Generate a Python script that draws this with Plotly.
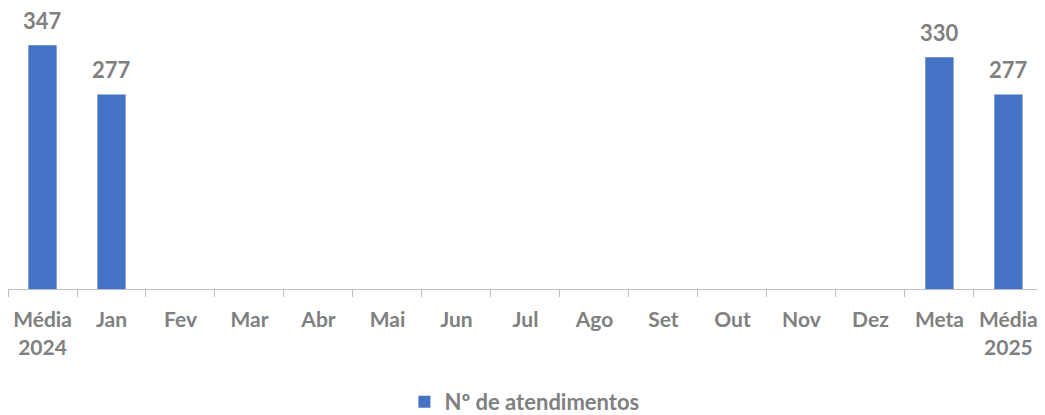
import plotly.graph_objects as go

categories = ["Média<br>2024", "Jan", "Fev", "Mar", "Abr", "Mai", "Jun", "Jul", "Ago",
              "Set", "Out", "Nov", "Dez", "Meta", "Média<br>2025"]
values = [347, 277, None, None, None, None, None, None, None, None, None, None, None, 330, 277]
series_name = "Nº de atendimentos"

GRAY = "#808080"
FONT = "Lato"

fig = go.Figure()
fig.add_trace(go.Bar(
    x=categories, y=values, name=series_name,
    marker=dict(color="#4472C4", line=dict(width=0)),
    width=0.41, showlegend=True,
))

for c, v in zip(categories, values):
    if v is not None:
        fig.add_annotation(x=c, y=v, text=str(v), showarrow=False,
                           yanchor="bottom", yshift=9,
                           font=dict(family=FONT, size=22, color=GRAY, weight="bold"))

fig.update_layout(
    width=1037, height=407,
    margin=dict(l=0, r=0, t=0, b=126, autoexpand=False),
    plot_bgcolor="white", paper_bgcolor="white",
    bargap=0.59,
    showlegend=True,
    legend=dict(orientation="h", x=0.498, xanchor="center", y=-0.402, yanchor="middle",
                font=dict(family=FONT, size=22, color=GRAY, weight="bold"),
                itemwidth=30, bgcolor="rgba(0,0,0,0)"),
    xaxis=dict(
        type="category", showgrid=False, zeroline=False, automargin=False,
        range=[-0.5, 14.53],
        showline=True, linecolor="#BFBFBF", linewidth=1,
        ticks="outside", tickson="boundaries", ticklen=7, tickcolor="#BFBFBF",
        ticklabelstandoff=12,
        tickfont=dict(family=FONT, size=21, color=GRAY, weight="bold"),
    ),
    yaxis=dict(range=[0, 400], visible=False, showgrid=False, zeroline=False,
               automargin=False),
)

fig.write_html("out.html")
